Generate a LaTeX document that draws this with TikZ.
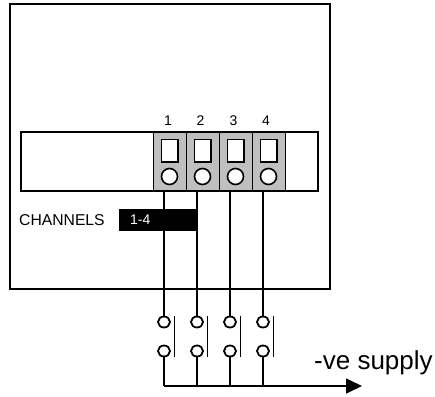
\documentclass[tikz,border=0pt]{standalone}
\usepackage{fontspec}
\setmainfont{Liberation Sans}
\usepackage{tikz}
\usetikzlibrary{arrows.meta,shapes.geometric}
\definecolor{termgray}{gray}{0.75}
\tikzset{
  wire/.style={black,line width=1.6pt},
  contact/.style={draw=black,fill=white,line width=1.8pt,ellipse,inner sep=0pt,minimum width=12pt,minimum height=11pt},
  socket/.style={draw=black,fill=white,line width=1.6pt,circle,inner sep=0pt,minimum size=16pt},
  smalltext/.style={inner sep=0pt,font=\fontsize{14}{16}\selectfont},
}
\begin{document}
\begin{tikzpicture}[x=1pt,y=1pt]
\useasboundingbox (0,0) rectangle (435,-396);
\draw [wire] (10,-4) rectangle (330,-289);
\draw [wire] (21,-132) rectangle (318,-191);
\draw [wire,fill=termgray] (153.5,-132) rectangle (186.5,-191);
\draw [wire,fill=termgray] (186.5,-132) rectangle (219.5,-191);
\draw [wire,fill=termgray] (219.5,-132) rectangle (252.5,-191);
\draw [wire,fill=termgray] (252.5,-132) rectangle (285.5,-191);
\draw [wire,fill=white] (161.5,-139.5) rectangle (178,-162);
\draw [wire,fill=white] (194.5,-139.5) rectangle (211,-162);
\draw [wire,fill=white] (227.5,-139.5) rectangle (244,-162);
\draw [wire,fill=white] (260.5,-139.5) rectangle (277,-162);
\node [socket] (sock1) at (169.5,-176.5) {};
\node [socket] (sock2) at (202.5,-176.5) {};
\node [socket] (sock3) at (235.5,-176.5) {};
\node [socket] (sock4) at (268.5,-176.5) {};
\node [smalltext] (num1) at (168,-121) {1};
\node [smalltext] (num2) at (200.5,-121) {2};
\node [smalltext] (num3) at (233.5,-121) {3};
\node [smalltext] (num4) at (266,-121) {4};
\node [smalltext,anchor=west,font=\fontsize{15.7}{16}\selectfont] (chanlabel) at (19,-220) {CHANNELS};
\node [fill=black,inner sep=0pt,minimum width=79pt,minimum height=22pt] (chanbar) at (158.5,-220) {};
\node [smalltext,anchor=west,text=white] (chanid) at (130,-220) {1-4};
\coordinate (top1) at (164,-191);
\coordinate (top2) at (197,-191);
\coordinate (top3) at (230,-191);
\coordinate (top4) at (263,-191);
\node [contact] (up1) at (164,-322) {};
\node [contact] (up2) at (197,-322) {};
\node [contact] (up3) at (230,-322) {};
\node [contact] (up4) at (263,-322) {};
\node [contact] (low1) at (164,-351) {};
\node [contact] (low2) at (197,-351) {};
\node [contact] (low3) at (230,-351) {};
\node [contact] (low4) at (263,-351) {};
\coordinate (bus1) at (164,-386);
\coordinate (bus2) at (197,-386);
\coordinate (bus3) at (230,-386);
\coordinate (bus4) at (263,-386);
\coordinate (busend) at (362,-386);
\draw [wire] (top1) -- (up1);
\draw [wire] (top2) -- (up2);
\draw [wire] (top3) -- (up3);
\draw [wire] (top4) -- (up4);
\draw [wire] (low1) -- (bus1);
\draw [wire] (low2) -- (bus2);
\draw [wire] (low3) -- (bus3);
\draw [wire] (low4) -- (bus4);
\draw [black,line width=1.5pt] (174.5,-316) -- (174.5,-357);
\draw [black,line width=1.5pt] (207.5,-316) -- (207.5,-357);
\draw [black,line width=1.5pt] (240.5,-316) -- (240.5,-357);
\draw [black,line width=1.5pt] (273.5,-316) -- (273.5,-357);
\draw [wire,-{Triangle[length=16pt,width=15pt]}] (bus1) -- (busend);
\node [inner sep=0pt,anchor=base west,font=\fontsize{26}{28}\selectfont] (supply) at (314,-369) {-ve supply};
\end{tikzpicture}
\end{document}
